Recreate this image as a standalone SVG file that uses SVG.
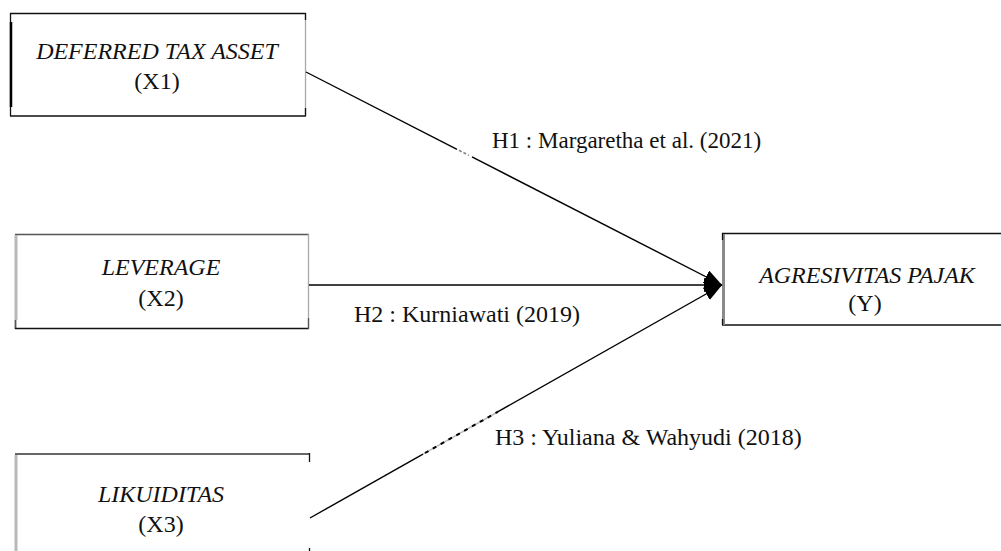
<svg xmlns="http://www.w3.org/2000/svg" width="1001" height="551" viewBox="0 0 1001 551">
  <style>
    text { font-family: 'Liberation Serif', 'Times New Roman', Times, serif; fill: #111; }
    .lbl { font-size: 24px; text-anchor: middle; }
    .it { font-style: italic; }
    .edge { font-size: 24px; }
    .dk { stroke: #111; stroke-width: 1.3; fill: none; }
    .gr { stroke: #aaa; stroke-width: 1.3; fill: none; }
    .thickgr { stroke: #b8b8b8; stroke-width: 3; fill: none; }
    .conn { stroke: #000; stroke-width: 1.4; fill: none; }
  </style>
  <defs>
    <marker id="arr" markerUnits="userSpaceOnUse" viewBox="0 0 18 14" refX="18" refY="7" markerWidth="18" markerHeight="14" orient="auto">
      <path d="M0,0 L18,7 L0,14 z" fill="#000"/>
    </marker>
  </defs>
  <rect width="1001" height="551" fill="#fff"/>

  <g id="node-x1">
    <line class="dk" x1="10" y1="13.5" x2="306" y2="13.5"/>
    <line class="dk" x1="10" y1="116" x2="306" y2="116"/>
    <line class="dk" x1="10.5" y1="13" x2="10.5" y2="116"/>
    <line x1="11" y1="22" x2="11" y2="107" stroke="#000" stroke-width="2.5"/>
    <line class="gr" x1="305.5" y1="13" x2="305.5" y2="116"/>
    <line class="dk" x1="305.5" y1="13" x2="305.5" y2="20"/>
    <line class="dk" x1="305.5" y1="108" x2="305.5" y2="116"/>
    <text class="lbl it" x="157" y="59">DEFERRED TAX ASSET</text>
    <text class="lbl" x="157" y="89">(X1)</text>
  </g>

  <g id="node-x2">
    <line x1="15" y1="234.5" x2="309" y2="234.5" stroke="#555" stroke-width="1.3"/>
    <line class="thickgr" x1="16" y1="235" x2="16" y2="320"/>
    <line x1="15.5" y1="320" x2="15.5" y2="329" stroke="#555" stroke-width="1.8"/>
    <line class="dk" x1="15" y1="328.5" x2="309" y2="328.5"/>
    <line class="gr" x1="308.5" y1="234" x2="308.5" y2="329"/>
    <line x1="308.5" y1="318" x2="308.5" y2="329" stroke="#555" stroke-width="1.3"/>
    <text class="lbl it" x="161" y="275">LEVERAGE</text>
    <text class="lbl" x="161" y="306">(X2)</text>
  </g>

  <g id="node-x3">
    <line x1="15" y1="454" x2="310" y2="454" stroke="#666" stroke-width="2"/>
    <line class="thickgr" x1="16" y1="455" x2="16" y2="551"/>
    <line class="dk" x1="309.5" y1="453" x2="309.5" y2="462"/>
    <line class="dk" x1="309.5" y1="548" x2="309.5" y2="551"/>
    <text class="lbl it" x="161" y="502">LIKUIDITAS</text>
    <text class="lbl" x="161" y="532">(X3)</text>
  </g>

  <g id="node-y">
    <line class="dk" x1="722" y1="233.5" x2="1001" y2="233.5"/>
    <line class="dk" x1="722" y1="325" x2="1001" y2="325"/>
    <line x1="723.5" y1="234" x2="723.5" y2="325" stroke="#8a8a8a" stroke-width="3"/>
    <line class="dk" x1="722.5" y1="233" x2="722.5" y2="240"/>
    <line class="dk" x1="722.5" y1="319" x2="722.5" y2="325"/>
    <text class="lbl it" x="867" y="283">AGRESIVITAS PAJAK</text>
    <text class="lbl" x="865" y="311">(Y)</text>
  </g>

  <g id="connectors">
    <line class="conn" x1="306" y1="72" x2="457" y2="149.3"/>
    <line x1="459" y1="150.3" x2="469" y2="155.4" stroke="#888" stroke-width="1.6" stroke-dasharray="3 2"/>
    <line class="conn" x1="472" y1="156.9" x2="722" y2="285" marker-end="url(#arr)"/>
    <line class="conn" x1="309" y1="285" x2="722" y2="285" marker-end="url(#arr)"/>
    <line class="conn" x1="310" y1="518" x2="423" y2="454.1"/>
    <line x1="423" y1="454.1" x2="498" y2="411.7" stroke="#bbb" stroke-width="1.6"/>
    <line x1="425" y1="453" x2="498" y2="411.7" stroke="#000" stroke-width="2" stroke-dasharray="4 5"/>
    <line class="conn" x1="498" y1="411.7" x2="722" y2="285" marker-end="url(#arr)"/>
    <text class="edge" x="492" y="148" style="font-size:23px">H1 : Margaretha et al. (2021)</text>
    <text class="edge" x="354" y="322">H2 : Kurniawati (2019)</text>
    <text class="edge" x="495" y="445">H3 : Yuliana &amp; Wahyudi (2018)</text>
  </g>
</svg>
